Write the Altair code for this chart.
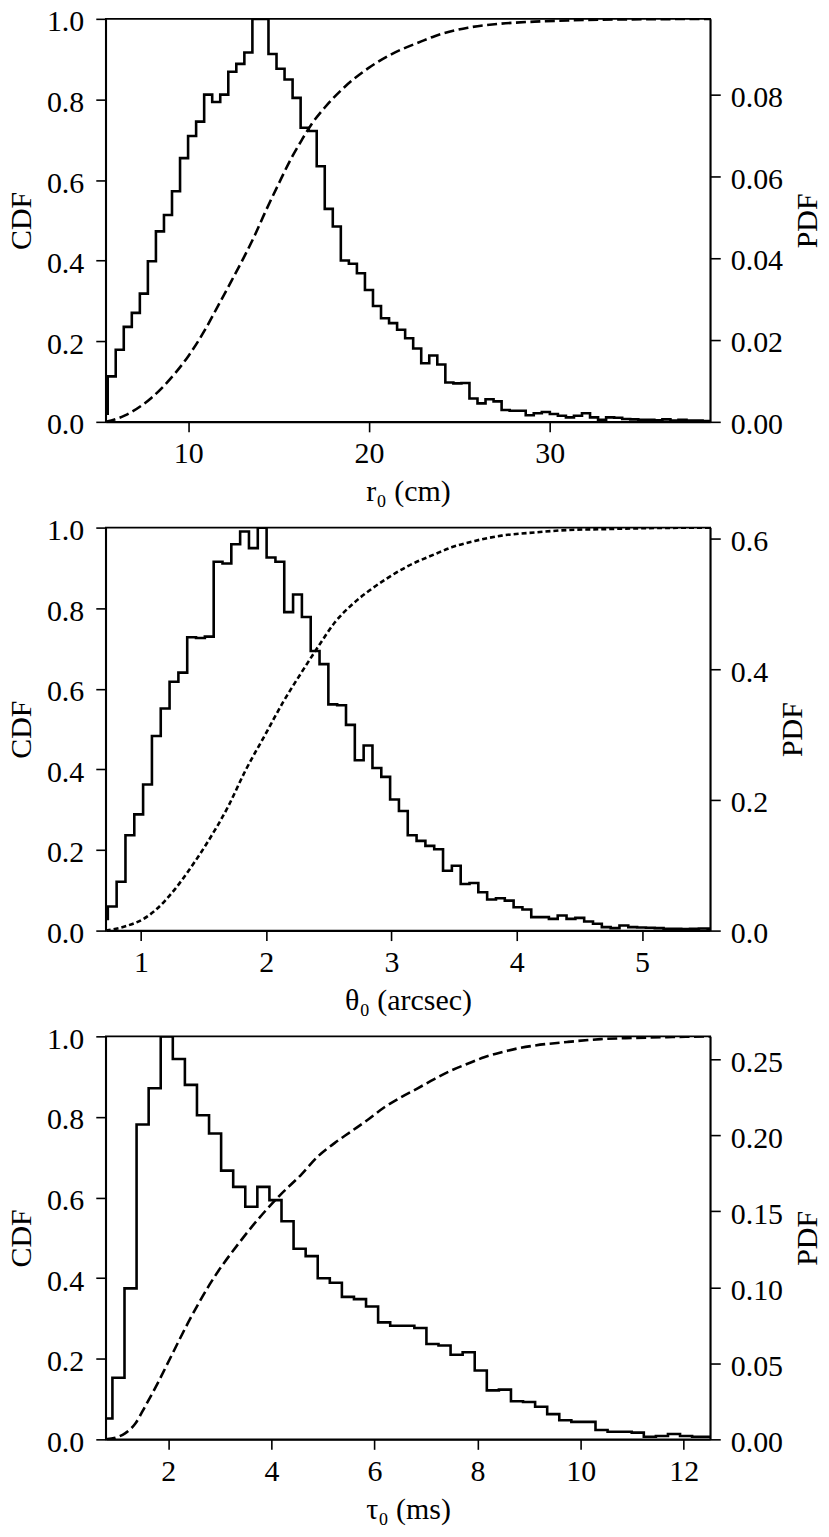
import altair as alt
import numpy as np
import pandas as pd

FONT = "Liberation Serif"

# ---------------- r0 panel ----------------
R0_XLIM = [5.433, 38.88]
R0_XTICKS = [10, 20, 30]
R0_BIN_START = 5.095
R0_BIN_WIDTH = 0.4448
R0_PDF_MAX = 0.0984
R0_PDF_TICKS = [0.0, 0.02, 0.04, 0.06, 0.08]
R0_PDF = [0.0020, 0.0111, 0.0176, 0.0232, 0.0266, 0.0313, 0.0392, 0.0465, 0.0505, 0.0563,
          0.0644, 0.0698, 0.0733, 0.0799, 0.0781, 0.0799, 0.0855, 0.0874, 0.0902, 0.0984,
          0.0984, 0.0898, 0.0862, 0.0836, 0.0791, 0.0718, 0.0710, 0.0624, 0.0520, 0.0477,
          0.0394, 0.0386, 0.0363, 0.0322, 0.0283, 0.0253, 0.0241, 0.0225, 0.0204, 0.0179,
          0.0143, 0.0162, 0.0140, 0.0096, 0.0094, 0.0095, 0.0057, 0.0045, 0.0055, 0.0050,
          0.0029, 0.0027, 0.0027, 0.0016, 0.0021, 0.0024, 0.0019, 0.0015, 0.0011, 0.0015,
          0.0021, 0.0011, 0.0005, 0.0011, 0.0010, 0.0007, 0.0006, 0.0005, 0.0005, 0.0004,
          0.0006, 0.0003, 0.0005, 0.0003, 0.0003, 0.0002]
R0_CDF_X = [5.433, 6.50, 7.97, 9.26, 10.0, 10.92, 11.66, 12.39, 13.13, 13.68, 14.23, 14.97,
            15.71, 16.26, 16.81, 17.55, 18.65, 19.94, 21.23, 22.89, 23.63, 25.47, 27.31,
            29.15, 30.99, 32.84, 35.5, 38.88]
R0_CDF_Y = [0.0, 0.016, 0.060, 0.120, 0.163, 0.228, 0.289, 0.350, 0.413, 0.463, 0.518, 0.588,
            0.655, 0.698, 0.738, 0.780, 0.831, 0.877, 0.912, 0.944, 0.957, 0.978, 0.988,
            0.993, 0.996, 0.998, 0.999, 1.0]

# ---------------- theta0 panel ----------------
TH_XLIM = [0.718, 5.545]
TH_XTICKS = [1, 2, 3, 4, 5]
TH_BIN_START = 0.664
TH_BIN_WIDTH = 0.07044
TH_PDF_MAX = 0.617
TH_PDF_TICKS = [0.0, 0.2, 0.4, 0.6]
TH_PDF = [0.018, 0.0368, 0.0749, 0.146, 0.178, 0.2236, 0.298, 0.340, 0.381, 0.395,
          0.449, 0.448, 0.450, 0.5647, 0.5621, 0.5916, 0.611, 0.5855, 0.617, 0.5713,
          0.5647, 0.4876, 0.5145, 0.480, 0.428, 0.408, 0.3464, 0.3449, 0.315, 0.2607,
          0.2835, 0.249, 0.2353, 0.2008, 0.183, 0.146, 0.1373, 0.1297, 0.1246, 0.0916,
          0.0992, 0.0713, 0.0728, 0.0586, 0.0475, 0.0495, 0.0459, 0.0358, 0.0322, 0.0206,
          0.0206, 0.018, 0.0231, 0.018, 0.0195, 0.014, 0.0104, 0.0053, 0.0038, 0.0079,
          0.0053, 0.0048, 0.0043, 0.0038, 0.0028, 0.0028, 0.0023, 0.0028, 0.0033, 0.0030]
TH_CDF_X = [0.718, 0.899, 1.019, 1.112, 1.271, 1.378, 1.538, 1.697, 1.830, 1.989, 2.136,
            2.282, 2.415, 2.548, 2.681, 2.815, 2.974, 3.134, 3.346, 3.479, 3.665, 3.878,
            4.144, 4.410, 4.676, 4.942, 5.545]
TH_CDF_Y = [0.0, 0.013, 0.029, 0.050, 0.103, 0.148, 0.223, 0.309, 0.395, 0.485, 0.568,
            0.641, 0.705, 0.765, 0.808, 0.842, 0.876, 0.905, 0.934, 0.951, 0.967, 0.980,
            0.988, 0.994, 0.996, 0.998, 1.0]

# ---------------- tau0 panel ----------------
TAU_XLIM = [0.787, 12.515]
TAU_XTICKS = [2, 4, 6, 8, 10, 12]
TAU_BIN_START = 0.682
TAU_BIN_WIDTH = 0.2343
TAU_PDF_MAX = 0.265
TAU_PDF_TICKS = [0.0, 0.05, 0.10, 0.15, 0.20, 0.25]
TAU_PDF = [0.0137, 0.0405, 0.0993, 0.207, 0.2309, 0.265, 0.2501, 0.2331, 0.2131, 0.2011,
           0.1767, 0.166, 0.1529, 0.166, 0.1573, 0.1434, 0.1253, 0.1205, 0.1059, 0.103,
           0.0937, 0.0922, 0.0874, 0.0769, 0.0747, 0.0747, 0.0732, 0.0627, 0.0617, 0.0556,
           0.0573, 0.0453, 0.0322, 0.0327, 0.0251, 0.0246, 0.0214, 0.0166, 0.0126, 0.0115,
           0.0115, 0.0061, 0.0050, 0.0050, 0.0044, 0.0017, 0.0022, 0.0035, 0.0022, 0.0017,
           0.0017]
TAU_CDF_X = [0.787, 1.032, 1.161, 1.354, 1.548, 1.806, 2.032, 2.387, 2.806, 3.419, 4.16,
             4.58, 4.903, 5.225, 5.548, 5.871, 6.193, 6.516, 6.838, 7.161, 7.483, 7.806,
             8.128, 8.451, 8.774, 9.096, 9.741, 10.386, 11.03, 11.677, 12.515]
TAU_CDF_Y = [0.0, 0.0066, 0.015, 0.038, 0.081, 0.142, 0.200, 0.290, 0.385, 0.495, 0.605,
             0.657, 0.702, 0.735, 0.764, 0.793, 0.824, 0.849, 0.871, 0.894, 0.915, 0.932,
             0.948, 0.960, 0.970, 0.977, 0.986, 0.993, 0.996, 0.998, 1.0]

CDF_TICKS = [0.0, 0.2, 0.4, 0.6, 0.8, 1.0]


def hist_frame(start, width, heights):
    edges = start + width * np.arange(len(heights) + 1)
    xs = [edges[0]] + list(edges[:-1]) + [edges[-1]]
    ys = [0.0] + list(heights) + [0.0]
    return pd.DataFrame({"x": xs, "y": ys, "i": list(range(len(xs)))})


def cdf_frame(xs, ys):
    return pd.DataFrame({"x": xs, "y": ys, "i": list(range(len(xs)))})


def panel(hdf, cdf, xlim, xticks, xtitle, pdfmax, pdfticks, pdffmt, dash):
    xscale = alt.Scale(domain=xlim, nice=False, zero=False)
    xaxis = alt.Axis(values=xticks, format="d", title=xtitle)
    cdf_line = alt.Chart(cdf).mark_line(
        color="black", strokeWidth=2.6, strokeDash=dash, clip=True, interpolate="monotone"
    ).encode(
        x=alt.X("x:Q", scale=xscale, axis=xaxis),
        y=alt.Y("y:Q", scale=alt.Scale(domain=[0, 1], nice=False, zero=True),
                axis=alt.Axis(values=CDF_TICKS, format=".1f", title="CDF", orient="left")),
        order="i:Q",
    )
    hist_line = alt.Chart(hdf).mark_line(
        interpolate="step-after", color="black", strokeWidth=2.6, clip=True
    ).encode(
        x=alt.X("x:Q", scale=xscale, axis=xaxis),
        y=alt.Y("y:Q", scale=alt.Scale(domain=[0, pdfmax], nice=False, zero=True),
                axis=alt.Axis(values=pdfticks, format=pdffmt, title="PDF", orient="right")),
        order="i:Q",
    )
    return alt.layer(cdf_line, hist_line).resolve_scale(y="independent").properties(
        width=606, height=404
    )


p1 = panel(hist_frame(R0_BIN_START, R0_BIN_WIDTH, R0_PDF), cdf_frame(R0_CDF_X, R0_CDF_Y),
           R0_XLIM, R0_XTICKS, "r\u2080 (cm)", R0_PDF_MAX, R0_PDF_TICKS, ".2f", [10, 4.5])
p2 = panel(hist_frame(TH_BIN_START, TH_BIN_WIDTH, TH_PDF), cdf_frame(TH_CDF_X, TH_CDF_Y),
           TH_XLIM, TH_XTICKS, "\u03b8\u2080 (arcsec)", TH_PDF_MAX, TH_PDF_TICKS, ".1f", [5, 3])
p3 = panel(hist_frame(TAU_BIN_START, TAU_BIN_WIDTH, TAU_PDF), cdf_frame(TAU_CDF_X, TAU_CDF_Y),
           TAU_XLIM, TAU_XTICKS, "\u03c4\u2080 (ms)", TAU_PDF_MAX, TAU_PDF_TICKS, ".2f", [10, 4.5])

chart = alt.vconcat(p1, p2, p3, spacing=106, bounds="flush").resolve_scale(
    x="independent", y="independent"
).properties(
    padding={"top": -4, "left": -3, "right": -3, "bottom": 0}
).configure_view(
    stroke="black", strokeWidth=1.6
).configure_axis(
    domainColor="black", domainWidth=1.6, tickColor="black", tickWidth=1.6, tickSize=10,
    labelFont=FONT, labelFontSize=30, labelColor="black", labelPadding=10,
    titleFont=FONT, titleFontSize=30, titleFontWeight="normal", titleColor="black",
    grid=False,
).configure_axisLeft(
    titlePadding=10, labelPadding=12, labelOffset=3
).configure_axisRight(
    titlePadding=10, labelPadding=10, titleAngle=270, titleBaseline="top", labelOffset=3
).configure_axisBottom(
    titlePadding=8, labelPadding=7
)

chart.save("out.html", embed_options={"renderer": "svg", "actions": False})
